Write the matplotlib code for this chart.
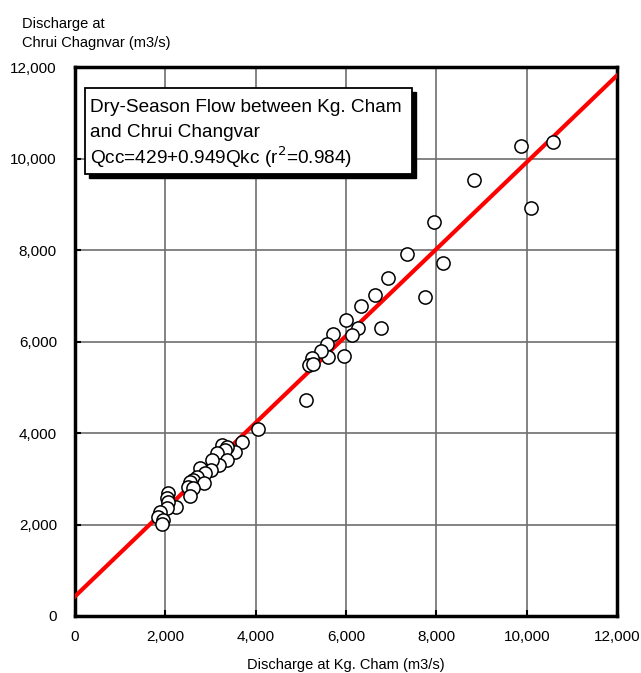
import numpy as np
import matplotlib.pyplot as plt
from matplotlib.ticker import FuncFormatter
from matplotlib.patches import Rectangle

plt.rcParams['font.family'] = ['Liberation Sans', 'DejaVu Sans']

# discharge at Kg. Cham (x) and Chrui Changvar (y), m3/s
q_kc = [10580, 9870, 10100, 8830, 7950, 8150, 7350, 7750, 6930, 6640,
        6330, 6780, 6270, 6130, 6000, 5960, 5710, 5580, 5600, 5450,
        5250, 5180, 5270, 5110, 4050, 3700, 3540, 3260, 3370, 3320,
        3140, 3370, 3190, 3030, 3010, 2770, 2880, 2700, 2610, 2550,
        2860, 2500, 2610, 2550, 2240, 2060, 2040, 2060, 2040, 1880,
        1840, 1950, 1930]
q_cc = [10360, 10270, 8920, 9530, 8610, 7720, 7910, 6970, 7390, 7020,
        6780, 6300, 6300, 6140, 6470, 5680, 6170, 5950, 5660, 5790,
        5640, 5490, 5510, 4720, 4090, 3800, 3590, 3740, 3690, 3630,
        3560, 3410, 3300, 3410, 3190, 3240, 3130, 3040, 2970, 2930,
        2910, 2820, 2800, 2620, 2380, 2690, 2580, 2490, 2360, 2270,
        2160, 2100, 2010]

intercept, slope = 429, 0.949
ticks = [0, 2000, 4000, 6000, 8000, 10000, 12000]
box_lines = ['Dry-Season Flow between Kg. Cham', 'and Chrui Changvar',
             'Qcc=429+0.949Qkc (r$^2$=0.984)']

fig = plt.figure(figsize=(6.41, 6.73), dpi=100)
ax = fig.add_axes([0.117, 0.0847, 0.8456, 0.8157])

ax.set_xlim(0, 12000)
ax.set_ylim(0, 12000)
ax.set_xticks(ticks)
ax.set_yticks(ticks)
fmt = FuncFormatter(lambda v, p: f'{int(v):,}')
ax.xaxis.set_major_formatter(fmt)
ax.yaxis.set_major_formatter(fmt)
ax.grid(True, color='#6e6e6e', lw=1.2)
ax.set_axisbelow(True)
ax.tick_params(direction='in', length=4, width=1.5, labelsize=11)
ax.tick_params(axis='y', pad=13)
ax.tick_params(axis='x', pad=10)
for s in ax.spines.values():
    s.set_linewidth(2.5)

xs = np.array([0, 12000])
ax.plot(xs, intercept + slope * xs, color='red', lw=3, zorder=3)
ax.plot(q_kc, q_cc, 'o', ms=9.5, mfc='white', mec='black', mew=1.1, zorder=4,
        clip_on=False)

ax.set_xlabel('Discharge at Kg. Cham (m3/s)', fontsize=10.5, labelpad=10)
fig.text(0.034, 0.926, 'Discharge at\nChrui Chagnvar (m3/s)', fontsize=10.5,
         va='bottom', ha='left', linespacing=1.4)

# annotation box with drop shadow
bx, by, bw, bh = 0.0185, 0.805, 0.603, 0.157
ax.add_patch(Rectangle((bx + 0.0075, by - 0.0075), bw, bh,
                       transform=ax.transAxes,
                       facecolor='black', edgecolor='black', zorder=5))
ax.add_patch(Rectangle((bx, by), bw, bh, transform=ax.transAxes,
                       facecolor='white', edgecolor='black', lw=1.3, zorder=6))
for line, yb in zip(box_lines, [0.918, 0.8725, 0.8233]):
    ax.text(bx + 0.009, yb, line, transform=ax.transAxes, fontsize=13.7,
            va='baseline', ha='left', zorder=7)

fig.savefig('out.png', dpi=100)
